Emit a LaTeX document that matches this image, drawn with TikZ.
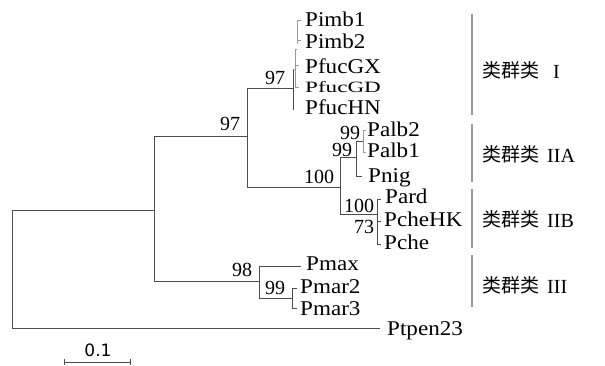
\documentclass[tikz,border=0pt]{standalone}
\usepackage{fontspec}
\usepackage{graphicx}
\setmainfont{Liberation Serif}
\newfontfamily\lblfont[FakeStretch=1.1]{Liberation Serif}
\newfontfamily\cjkfont{Noto Sans CJK SC}
\newfontfamily\barfont{DejaVu Sans}
\definecolor{treegray}{HTML}{4D4D4D}
\definecolor{lightgray}{HTML}{999999}
\begin{document}
\begin{tikzpicture}[x=1pt,y=-1pt,
  br/.style={draw=treegray,line width=1pt},
  thin/.style={draw=lightgray,line width=1pt},
  bracket/.style={draw=lightgray,line width=1.1pt},
  leaf/.style={anchor=base west,inner sep=0pt,font=\lblfont\fontsize{21}{21}\selectfont},
  boot/.style={inner sep=0pt,font=\fontsize{20}{20}\selectfont},
  grp/.style={anchor=base west,inner sep=0pt,font=\cjkfont\fontsize{19}{19}\selectfont},
  roman/.style={anchor=base west,inner sep=0pt,font=\fontsize{20}{20}\selectfont}]
\useasboundingbox (0,0) rectangle (605,366);
% ---- tree branches ----
\draw[br] (154,211) -| (12,328) -- (380,328);
\draw[br] (247,137) -| (154,281) -- (259,281);
\draw[br] (293,89) -| (247,188) -- (340,188);
\draw[br] (293,70) -- (293,110);
\draw[thin] (293,70) -- (295,70);
\draw[thin] (295,50) -- (295,88);
\draw[thin] (295,88) -- (299,88);
\draw[thin] (295,66) -- (299,66);
\draw[thin] (295,50) -- (297,50);
\draw[thin] (297,21) -- (297,44);
\draw[thin] (297,21) -- (301,21);
\draw[thin] (297,41) -- (301,41);
\draw[br] (356,158) -| (340,215) -- (377,215);
\draw[br] (363,142) -| (356,177) -- (362,177);
\draw[thin] (363,131) -- (363,153);
\draw[thin] (363,131) -- (366,131);
\draw[thin] (363,153) -- (366,153);
\draw[br] (377,200) -- (377,244);
\draw[br] (377,200) -- (381,200);
\draw[br] (377,222) -- (381,222);
\draw[br] (377,244) -- (381,244);
\draw[br] (301,266) -| (259,298) -- (292,298);
\draw[br] (297,288) -| (292,308) -- (297,308);
% ---- leaves ----
\node[leaf] (pimb1) at (305,26.5) {Pimb1};
\node[leaf] (pimb2) at (305,49) {Pimb2};
\node[leaf] (pfucgx) at (305,74) {PfucGX};
\node[leaf] (pfucgd) at (305,93) {\scalebox{1}[0.75]{PfucGD}};
\node[leaf] (pfuchn) at (305,115) {PfucHN};
\node[leaf] (palb2) at (367,137) {Palb2};
\node[leaf] (palb1) at (367,158) {Palb1};
\node[leaf] (pnig) at (368,183) {Pnig};
\node[leaf] (pard) at (385,204) {Pard};
\node[leaf] (pchehk) at (384,227) {PcheHK};
\node[leaf] (pche) at (384,250) {Pche};
\node[leaf] (pmax) at (306,270) {Pmax};
\node[leaf] (pmar2) at (300,293) {Pmar2};
\node[leaf] (pmar3) at (300,315) {Pmar3};
\node[leaf] (ptpen) at (387,335) {Ptpen23};
% ---- bootstrap values ----
\node[boot] (b1) at (275,78) {97};
\node[boot] (b2) at (230,124) {97};
\node[boot] (b3) at (350,133) {99};
\node[boot] (b4) at (342,150) {99};
\node[boot] (b5) at (319,177) {100};
\node[boot] (b6) at (359,206) {100};
\node[boot] (b7) at (364,227) {73};
\node[boot] (b8) at (242,270) {98};
\node[boot] (b9) at (275,288) {99};
% ---- group brackets ----
\draw[bracket] (472,14) -- (472,115);
\draw[bracket] (472,124) -- (472,182);
\draw[bracket] (472,189) -- (472,248);
\draw[bracket] (472,255) -- (472,307);
\node[grp] (g1) at (482,78) {类群类};
\node[roman] (r1) at (553,79) {I};
\node[grp] (g2) at (482,162) {类群类};
\node[roman] (r2) at (547,163) {IIA};
\node[grp] (g3) at (482,227) {类群类};
\node[roman] (r3) at (547,228) {IIB};
\node[grp] (g4) at (482,292) {类群类};
\node[roman] (r4) at (547,293) {III};
% ---- scale bar ----
\draw[br] (64,362) -- (130,362);
\draw[br] (64,358.5) -- (64,365);
\draw[br] (130,358.5) -- (130,365);
\node[inner sep=0pt,font=\barfont\fontsize{17}{17}\selectfont] (sb) at (98,350) {0.1};
\end{tikzpicture}
\end{document}
